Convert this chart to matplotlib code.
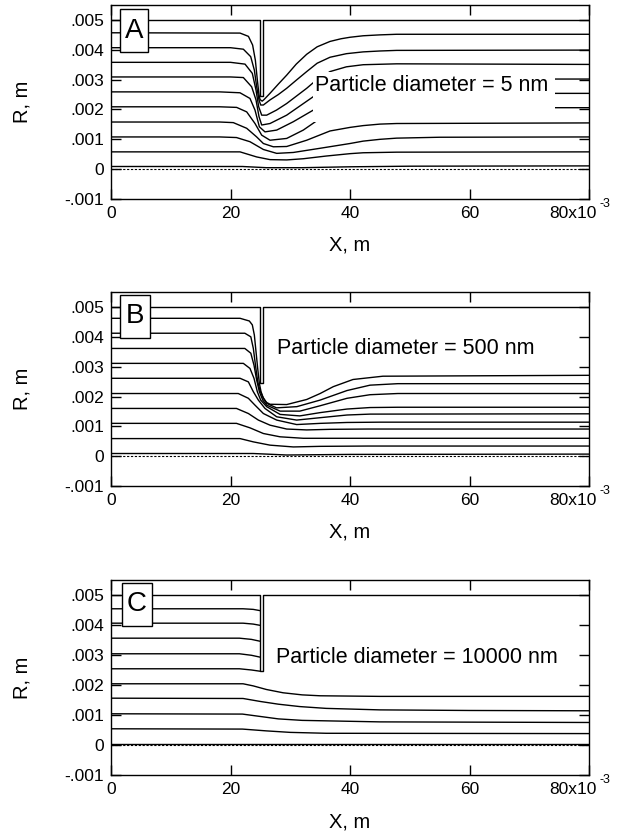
import numpy as np
import matplotlib
matplotlib.use('Agg')
import matplotlib.pyplot as plt
from matplotlib.patches import Rectangle
from matplotlib.transforms import ScaledTranslation

plt.rcParams['font.family'] = ['Liberation Sans', 'DejaVu Sans']

# tube wall with the impactor plate, x and r in mm
WALL_X = [0, 24.9, 24.9, 25.4, 25.4, 80]
WALL_R = [5.0, 5.0, 2.46, 2.46, 5.0, 5.0]

# particle trajectories, (x mm, r mm) per line
A_LINES = [
    ([0, 21.6, 23.0, 23.7, 24.16, 24.49, 24.77, 24.95, 25.3, 25.6, 26.6, 28.0, 29.4, 31.0, 32.75, 34.5, 36.65, 38.5, 40.0, 42.2, 45.0, 47.8, 80],
     [4.57, 4.56, 4.45, 4.16, 3.65, 2.99, 2.49, 2.33, 2.28, 2.33, 2.54, 2.85, 3.15, 3.52, 3.85, 4.1, 4.28, 4.37, 4.42, 4.47, 4.5, 4.52, 4.52]),
    ([0, 20, 22.15, 23.38, 23.99, 24.38, 24.77, 25.05, 25.5, 26.61, 28.0, 29.4, 31.0, 32.75, 34.5, 36.65, 39.4, 42.2, 45.0, 47.8, 80],
     [4.07, 4.07, 4.02, 3.77, 3.32, 2.76, 2.32, 2.15, 2.15, 2.32, 2.5, 2.71, 2.98, 3.27, 3.55, 3.75, 3.87, 3.93, 3.96, 3.98, 3.99]),
    ([0, 20, 22.43, 23.65, 24.27, 24.72, 25.22, 26.05, 27.7, 29.4, 32.75, 33.86, 36.65, 39.4, 42.2, 47.8, 80],
     [3.58, 3.58, 3.52, 3.21, 2.65, 2.09, 1.81, 1.81, 1.98, 2.2, 2.71, 2.9, 3.27, 3.43, 3.5, 3.53, 3.51]),
    ([0, 20, 22.15, 23.54, 24.27, 24.77, 25.22, 26.61, 29.4, 33.86, 40, 50, 60, 74.3, 80],
     [3.09, 3.09, 3.07, 2.76, 2.32, 1.76, 1.48, 1.53, 1.81, 2.43, 2.75, 2.92, 2.98, 3.02, 3.02]),
    ([0, 18.2, 21.59, 23.26, 24.1, 24.83, 25.77, 27.73, 30.51, 33.86, 45, 60, 74.3, 80],
     [2.59, 2.59, 2.56, 2.37, 1.98, 1.42, 1.25, 1.31, 1.59, 1.98, 2.35, 2.5, 2.54, 2.54]),
    ([0, 18.2, 21.03, 22.71, 24.1, 25.22, 26.61, 29.4, 32.18, 34.42, 45, 60, 74.3, 80],
     [2.09, 2.09, 2.07, 1.92, 1.53, 1.14, 0.97, 1.03, 1.31, 1.62, 1.9, 2.02, 2.06, 2.06]),
    ([0, 18.2, 20.47, 22.71, 24.38, 25.5, 27.17, 29.4, 32.75, 36.65, 40, 42.2, 45.0, 47.8, 80],
     [1.58, 1.58, 1.56, 1.37, 1.08, 0.86, 0.75, 0.76, 0.97, 1.28, 1.4, 1.46, 1.51, 1.53, 1.55]),
    ([0, 18.2, 21.0, 23.26, 25.5, 27.73, 30.51, 34.98, 40, 42.2, 45.0, 47.8, 55, 80],
     [1.08, 1.08, 1.06, 0.92, 0.66, 0.53, 0.56, 0.7, 0.86, 0.94, 1.0, 1.04, 1.07, 1.08]),
    ([0, 18.2, 21.59, 24.38, 26.61, 29.4, 32.18, 36.0, 40, 42.2, 47.8, 80],
     [0.58, 0.58, 0.58, 0.41, 0.32, 0.31, 0.35, 0.44, 0.52, 0.55, 0.57, 0.58]),
    ([0, 22, 26, 32, 40, 50, 80],
     [0.09, 0.09, 0.05, 0.05, 0.08, 0.1, 0.11]),
]

B_LINES = [
    ([0, 21.6, 23.15, 23.65, 23.99, 24.27, 24.55, 24.83, 25.11, 25.5, 26.05, 26.61, 29.4, 32.75, 35.0, 37.2, 40.5, 45.5, 80],
     [4.62, 4.62, 4.53, 4.4, 4.06, 3.5, 2.94, 2.44, 2.16, 1.94, 1.8, 1.74, 1.73, 1.9, 2.1, 2.33, 2.57, 2.68, 2.71]),
    ([0, 22.4, 23.4, 23.82, 24.21, 24.55, 24.94, 25.4, 26.05, 27.7, 31.1, 35.0, 39.5, 43.35, 48, 80],
     [4.12, 4.12, 4.0, 3.61, 3.0, 2.5, 2.2, 1.99, 1.77, 1.62, 1.66, 1.88, 2.2, 2.38, 2.43, 2.43]),
    ([0, 22.4, 23.4, 23.93, 24.38, 24.83, 25.4, 26.05, 28.3, 31.6, 35, 39.5, 43.35, 48, 80],
     [3.61, 3.61, 3.45, 3.05, 2.55, 2.16, 1.88, 1.71, 1.51, 1.51, 1.69, 1.94, 2.06, 2.1, 2.1]),
    ([0, 22.15, 23.26, 23.93, 24.49, 25.05, 26.05, 28.3, 31.6, 35, 39.5, 43.35, 48, 80],
     [3.11, 3.11, 2.94, 2.61, 2.16, 1.88, 1.66, 1.4, 1.35, 1.46, 1.58, 1.63, 1.64, 1.64]),
    ([0, 21.6, 22.99, 23.82, 24.66, 25.77, 27.73, 31.07, 35, 39.5, 43.35, 80],
     [2.61, 2.61, 2.49, 2.16, 1.88, 1.6, 1.32, 1.21, 1.29, 1.38, 1.41, 1.42]),
    ([0, 21.3, 22.99, 24.1, 25.5, 27.73, 31.07, 35, 39.5, 45, 80],
     [2.1, 2.1, 1.94, 1.71, 1.43, 1.21, 1.06, 1.1, 1.13, 1.14, 1.14]),
    ([0, 21.0, 22.99, 24.66, 26.61, 29.4, 32.75, 36.65, 43, 80],
     [1.6, 1.6, 1.43, 1.21, 1.04, 0.91, 0.88, 0.9, 0.91, 0.91]),
    ([0, 21.0, 23.26, 25.5, 28.28, 32.18, 36.65, 80],
     [1.1, 1.1, 0.95, 0.76, 0.65, 0.6, 0.6, 0.6]),
    ([0, 21.6, 23.82, 26.61, 30.51, 34.98, 43, 80],
     [0.59, 0.59, 0.48, 0.37, 0.31, 0.33, 0.34, 0.34]),
    ([0, 23.8, 29.4, 40, 80],
     [0.09, 0.09, 0.04, 0.06, 0.07]),
]

C_LINES = [
    ([0, 22.1, 23.8, 24.9], [4.54, 4.54, 4.52, 4.48]),
    ([0, 22.1, 23.8, 24.9], [4.06, 4.06, 4.03, 3.99]),
    ([0, 21.5, 23.5, 24.9], [3.56, 3.56, 3.52, 3.46]),
    ([0, 21.5, 23.5, 24.9], [3.04, 3.04, 2.99, 2.93]),
    ([0, 21.5, 23.5, 24.9], [2.54, 2.54, 2.5, 2.46]),
    ([0, 22.1, 23.8, 26, 28.8, 32, 35, 45, 80], [2.04, 2.04, 1.97, 1.85, 1.74, 1.67, 1.64, 1.62, 1.62]),
    ([0, 22.1, 25, 28, 31.6, 36, 45, 60, 80], [1.56, 1.55, 1.45, 1.36, 1.28, 1.22, 1.17, 1.15, 1.14]),
    ([0, 22, 25, 28, 32, 45, 80], [1.04, 1.03, 0.95, 0.87, 0.82, 0.77, 0.75]),
    ([0, 22, 26, 30, 36, 80], [0.54, 0.53, 0.47, 0.42, 0.39, 0.38]),
    ([0, 80], [0.03, 0.03]),
]

LETTERS = ['A', 'B', 'C']
DIAMETERS = ['5 nm', '500 nm', '10000 nm']
X_TICKS = [0, 0.02, 0.04, 0.06, 0.08]
X_TICKLABELS = ['0', '20', '40', '60', '80x10']
Y_TICKS = [-0.001, 0, 0.001, 0.002, 0.003, 0.004, 0.005]
Y_TICKLABELS = ['-.001', '0', '.001', '.002', '.003', '.004', '.005']

# label placement per panel: text in (x mm, r mm), letter box in axes fraction
text_pos = [(34.1, 2.82), (27.8, 3.6), (27.6, 2.91)]
letter_box = [(0.0188, 0.758, 0.0586, 0.221),
              (0.0188, 0.763, 0.0628, 0.222),
              (0.0230, 0.764, 0.0628, 0.221)]
rects = [[0.1748, 0.7625, 0.7528, 0.2315],
         [0.1748, 0.4200, 0.7528, 0.2315],
         [0.1748, 0.0752, 0.7528, 0.2327]]

fig = plt.figure(figsize=(6.35, 8.38), dpi=100)
for i, lines in enumerate([A_LINES, B_LINES, C_LINES]):
    ax = fig.add_axes(rects[i])
    ax.plot(np.array(WALL_X) * 1e-3, np.array(WALL_R) * 1e-3, color='black', lw=1.0, zorder=3)
    for xs, rs in lines:
        ax.plot(np.array(xs) * 1e-3, np.array(rs) * 1e-3, color='black', lw=1.0, zorder=2)
    ax.axhline(0, color='black', lw=0.8, ls=(0, (2, 1.5)), zorder=2)

    if i == 0:
        # white backing behind the label hides the lines under it
        ax.add_patch(Rectangle((33.8e-3, 1.59e-3), 40.5e-3, 1.66e-3,
                               facecolor='white', edgecolor='none', zorder=4))
    tx, ty = text_pos[i]
    ax.text(tx * 1e-3, ty * 1e-3, 'Particle diameter = ' + DIAMETERS[i],
            fontsize=15.5, ha='left', va='center', zorder=6)

    bx, by, bw, bh = letter_box[i]
    ax.add_patch(Rectangle((bx, by), bw, bh, transform=ax.transAxes,
                           facecolor='white', edgecolor='black', lw=1.0, zorder=5))
    ax.text(bx + bw / 2, by + bh / 2, LETTERS[i], transform=ax.transAxes,
            fontsize=20, ha='center', va='center', zorder=6)

    ax.set_xlim(0, 0.08)
    ax.set_ylim(-0.001, 0.0055)
    ax.set_xticks(X_TICKS)
    ax.set_xticklabels(X_TICKLABELS)
    ax.set_yticks(Y_TICKS)
    ax.set_yticklabels(Y_TICKLABELS)
    ax.tick_params(direction='in', top=True, right=True, length=7, width=1.0,
                   labelsize=12.5, pad=5)
    for s in ax.spines.values():
        s.set_linewidth(1.0)

    # last x label sits left of its tick, exponent raised after it
    last = ax.get_xticklabels()[-1]
    last.set_transform(last.get_transform() + ScaledTranslation(-0.165, 0, fig.dpi_scale_trans))
    ax.annotate('-3', xy=(1, 0), xycoords='axes fraction', xytext=(11.5, -3.5),
                textcoords='offset points', ha='center', va='center', fontsize=9)

    ax.set_xlabel('X, m', fontsize=14.5)
    ax.set_ylabel('R, m', fontsize=14.5)
    ax.xaxis.set_label_coords(0.5, -0.19)
    ax.yaxis.set_label_coords(-0.167, 0.5)

fig.savefig('out.png', dpi=100)
